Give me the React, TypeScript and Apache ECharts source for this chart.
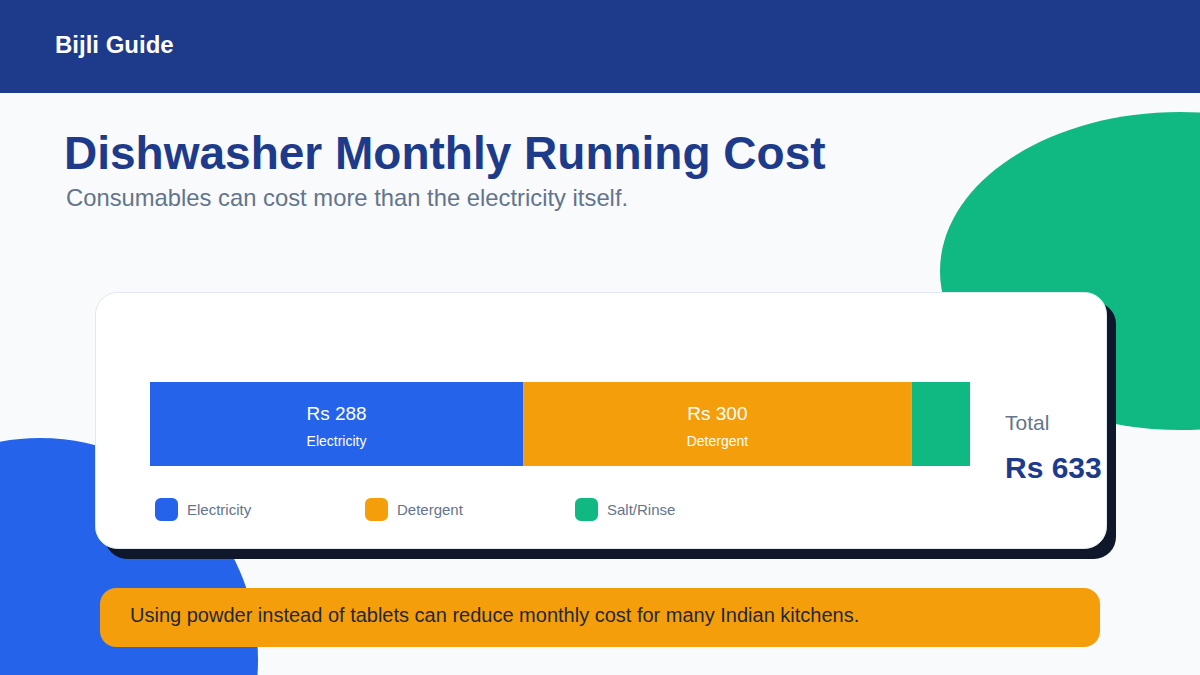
import React, { useEffect, useRef } from "react";
import * as echarts from "echarts";

const categories = ["Monthly cost"];
const seriesNames = ["Electricity", "Detergent", "Salt/Rinse"];
const seriesValues = [288, 300, 45];
const seriesColors = ["#2563eb", "#f59e0b", "#10b981"];
const showInsideLabel = [true, true, false];
const totalValue = 633;

const FONT = "'Liberation Sans', Arial, Helvetica, sans-serif";

export default function App() {
  const ref = useRef<HTMLDivElement>(null);

  useEffect(() => {
    if (!ref.current) return;
    document.body.style.margin = "0";
    const chart = echarts.init(ref.current, null, { renderer: "svg" });

    const series = seriesNames.map((name, i) => ({
      name,
      type: "bar",
      stack: "total",
      barWidth: 84,
      data: [seriesValues[i]],
      itemStyle: { color: seriesColors[i] },
      label: {
        show: showInsideLabel[i],
        position: "inside",
        offset: [0, 3],
        formatter: (p: any) => `{v|Rs ${p.value}}\n{n|${p.seriesName}}`,
        rich: {
          v: { color: "#ffffff", fontSize: 19, fontFamily: FONT, lineHeight: 28 },
          n: { color: "#ffffff", fontSize: 14, fontFamily: FONT, lineHeight: 28 },
        },
      },
      emphasis: { disabled: true },
    }));

    const legendLefts = [155, 365, 575];
    const legends = seriesNames.map((name, i) => ({
      data: [name],
      left: legendLefts[i],
      top: 498,
      padding: 0,
      icon: "roundRect",
      itemWidth: 23,
      itemHeight: 23,
      itemGap: 0,
      selectedMode: false,
      textStyle: { color: "#64748b", fontSize: 15, fontFamily: FONT, padding: [0, 0, 0, 4] },
    }));

    chart.setOption({
      animation: false,
      backgroundColor: "#f8fafc",
      textStyle: { fontFamily: FONT },
      grid: { left: 150, right: 230, top: 382, height: 84, containLabel: false },
      xAxis: { type: "value", min: 0, max: totalValue, show: false },
      yAxis: { type: "category", data: categories, show: false },
      legend: legends,
      tooltip: { show: false },
      graphic: [
        // header
        { type: "rect", z: -10, shape: { x: 0, y: 0, width: 1200, height: 93 }, style: { fill: "#1e3a8a" } },
        {
          type: "text", z: -9, x: 55, y: 44,
          style: { text: "Bijli Guide", fill: "#ffffff", font: `bold 24px ${FONT}`, verticalAlign: "middle" },
        },
        // decorative blobs
        { type: "ellipse", z: -8, shape: { cx: 1180, cy: 271, rx: 240, ry: 159 }, style: { fill: "#10b981" } },
        { type: "ellipse", z: -8, shape: { cx: 40, cy: 660, rx: 218, ry: 222 }, style: { fill: "#2563eb" } },
        // titles
        {
          type: "text", z: -7, x: 64, y: 153,
          style: { text: "Dishwasher Monthly Running Cost", fill: "#1e3a8a", font: `bold 46px ${FONT}`, verticalAlign: "middle" },
        },
        {
          type: "text", z: -7, x: 66, y: 197,
          style: { text: "Consumables can cost more than the electricity itself.", fill: "#64748b", font: `23.8px ${FONT}`, verticalAlign: "middle" },
        },
        // card shadow + card
        { type: "rect", z: -6, shape: { x: 105, y: 302, width: 1011, height: 257, r: 22 }, style: { fill: "#0f172a" } },
        {
          type: "rect", z: -5, shape: { x: 95.5, y: 292.5, width: 1011, height: 256, r: 22 },
          style: { fill: "#ffffff", stroke: "#e2e8f0", lineWidth: 1 },
        },
        // total
        {
          type: "text", z: 5, x: 1005, y: 422,
          style: { text: "Total", fill: "#64748b", font: `21px ${FONT}`, verticalAlign: "middle" },
        },
        {
          type: "text", z: 5, x: 1005, y: 467,
          style: { text: `Rs ${totalValue}`, fill: "#1e3a8a", font: `bold 30px ${FONT}`, verticalAlign: "middle" },
        },
        // bottom banner
        { type: "rect", z: -4, shape: { x: 100, y: 588, width: 1000, height: 59, r: 16 }, style: { fill: "#f59e0b" } },
        {
          type: "text", z: -3, x: 130, y: 615,
          style: {
            text: "Using powder instead of tablets can reduce monthly cost for many Indian kitchens.",
            fill: "#1f2937", font: `20px ${FONT}`, verticalAlign: "middle",
          },
        },
      ],
      series,
    });

    return () => chart.dispose();
  }, []);

  return <div ref={ref} style={{ width: 1200, height: 675 }} />;
}
